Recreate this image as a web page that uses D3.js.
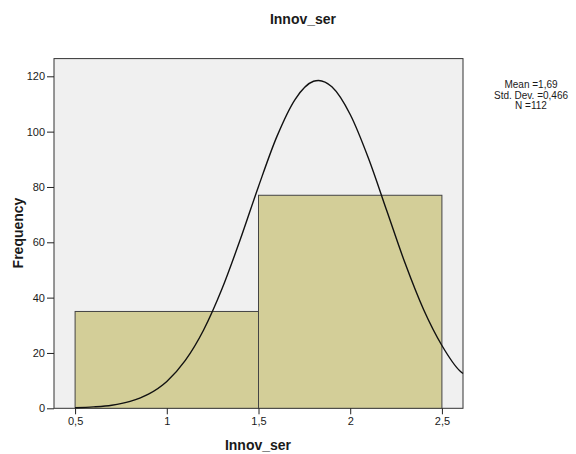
<!DOCTYPE html>
<html>
<head>
<meta charset="utf-8">
<script src="https://cdn.jsdelivr.net/npm/d3@7"></script>
<style>
  body { margin: 0; background: #fff; }
  text { font-family: "Liberation Sans", Arial, sans-serif; fill: #1a1a1a; }
  .axis path, .axis line { stroke: #222; }
</style>
</head>
<body>
<script>
// #Data
const binStarts = [0.5, 1.5];
const binEnds = [1.5, 2.5];
const binCounts = [35, 77];
const xTicks = [0.5, 1, 1.5, 2, 2.5];
const yTicks = [0, 20, 40, 60, 80, 100, 120];
const curveX = [0.5, 0.6, 0.7, 0.8, 0.9, 1.0, 1.1, 1.2, 1.3, 1.4, 1.5, 1.6, 1.7, 1.8, 1.827, 1.9, 2.0, 2.1, 2.2, 2.3, 2.4, 2.5, 2.6, 2.615];
const curveY = [0.2, 0.5, 1.1, 2.5, 5.1, 9.7, 17.2, 28.2, 43.0, 60.9, 80.2, 98.2, 111.7, 118.2, 118.5, 116.2, 106.2, 90.3, 71.3, 52.3, 35.7, 22.7, 13.4, 12.6];
const statLines = ['Mean =1,69', 'Std. Dev. =0,466', 'N =112'];

// #Define SVG
const width = 576, height = 454;
const svg = d3.select('body')
              .append('svg')
              .attr('width', width)
              .attr('height', height);

const plot = {left: 54, right: 463, top: 58.6, bottom: 408.3};

const xScale = d3.scaleLinear()
                 .domain([0.385, 2.615])
                 .range([plot.left, plot.right]);
const yScale = d3.scaleLinear()
                 .domain([0, 126.4])
                 .range([plot.bottom, plot.top]);

const fmt = d => String(d).replace('.', ',');

// #Plot background
svg.append('rect')
   .attr('x', plot.left)
   .attr('y', plot.top)
   .attr('width', plot.right - plot.left)
   .attr('height', plot.bottom - plot.top)
   .attr('fill', '#f0f0f0')
   .attr('stroke', '#333')
   .attr('stroke-width', 1);

// #Bars
svg.append('g')
   .selectAll('rect')
   .data(binCounts)
   .enter()
   .append('rect')
   .attr('x', (d, i) => xScale(binStarts[i]))
   .attr('y', d => yScale(d))
   .attr('width', (d, i) => xScale(binEnds[i]) - xScale(binStarts[i]))
   .attr('height', d => yScale(0) - yScale(d))
   .attr('fill', '#d3ce98')
   .attr('stroke', '#444')
   .attr('stroke-width', 1);

// #Normal curve
const line = d3.line()
               .x(d => xScale(d[0]))
               .y(d => yScale(d[1]))
               .curve(d3.curveMonotoneX);
svg.append('path')
   .datum(curveX.map((x, i) => [x, curveY[i]]))
   .attr('d', line)
   .attr('fill', 'none')
   .attr('stroke', '#111')
   .attr('stroke-width', 1.4);

// #Axes
const xAxis = d3.axisBottom(xScale)
                .tickValues(xTicks)
                .tickFormat(fmt)
                .tickSize(6)
                .tickSizeOuter(0)
                .tickPadding(3);
svg.append('g')
   .attr('class', 'axis')
   .attr('transform', 'translate(0,' + plot.bottom + ')')
   .call(xAxis)
   .call(g => g.select('.domain').remove())
   .selectAll('text')
   .style('font-size', '11px');

const yAxis = d3.axisLeft(yScale)
                .tickValues(yTicks)
                .tickSize(7)
                .tickSizeOuter(0)
                .tickPadding(2);
svg.append('g')
   .attr('class', 'axis')
   .attr('transform', 'translate(' + plot.left + ',0)')
   .call(yAxis)
   .call(g => g.select('.domain').remove())
   .selectAll('text')
   .style('font-size', '11px');

// #Titles
svg.append('text')
   .attr('x', 303)
   .attr('y', 24)
   .attr('text-anchor', 'middle')
   .style('font-size', '14px')
   .style('font-weight', 'bold')
   .text('Innov_ser');

svg.append('text')
   .attr('x', 258)
   .attr('y', 450)
   .attr('text-anchor', 'middle')
   .style('font-size', '14px')
   .style('font-weight', 'bold')
   .text('Innov_ser');

svg.append('text')
   .attr('transform', 'translate(23,233) rotate(-90)')
   .attr('text-anchor', 'middle')
   .style('font-size', '14px')
   .style('font-weight', 'bold')
   .text('Frequency');

// #Stats box
svg.append('g')
   .selectAll('text')
   .data(statLines)
   .enter()
   .append('text')
   .attr('x', 531)
   .attr('y', (d, i) => 88 + i * 10.5)
   .attr('text-anchor', 'middle')
   .style('font-size', '10px')
   .text(d => d);
</script>
</body>
</html>
